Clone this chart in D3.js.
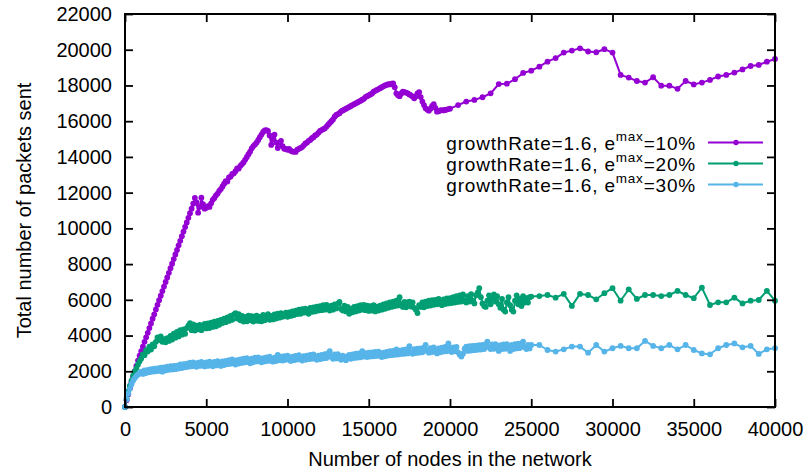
<!DOCTYPE html>
<html>
<head>
<meta charset="utf-8">
<script src="https://cdn.jsdelivr.net/npm/d3@7/dist/d3.min.js"></script>
<style>
  body { margin: 0; background: #fff; }
  text { font-family: "Liberation Sans", Arial, Helvetica, sans-serif; fill: #000; }
</style>
</head>
<body>
<div id="chart"></div>
<script>
// Sampling grids (number of nodes)
const nodesDense10 = d3.range(0, 20001, 100);
const nodesSparse10 = d3.range(20500, 40001, 500);
const nodesDense = d3.range(0, 25001, 100);
const nodesSparse = d3.range(25500, 40001, 500);

// growthRate=1.6, emax=10%
const sent10Dense = [
  0, 380, 720, 1050, 1380, 1700, 2000, 2300, 2600, 2870,
  3120, 3380, 3650, 3900, 4150, 4420, 4680, 4940, 5190, 5460,
  5720, 5980, 6230, 6490, 6740, 7000, 7250, 7510, 7770, 8020,
  8280, 8540, 8790, 9050, 9300, 9560, 9820, 10080, 10330, 10590,
  10850, 11100, 11380, 11700, 11450, 10880, 11200, 11720, 11350, 11100,
  11150, 11250, 11200, 11400, 11600, 11700, 11850, 11950, 12100, 12200,
  12350, 12500, 12650, 12620, 12850, 12900, 13050, 13080, 13200, 13350,
  13350, 13500, 13600, 13700, 13850, 14000, 14150, 14300, 14480, 14600,
  14700, 14800, 14950, 15100, 15250, 15400, 15480, 15500, 15450, 15200,
  14670, 15000, 15250, 14800, 14500, 14800, 14900, 14600, 14450, 14450,
  14400, 14450, 14350, 14300, 14300, 14280, 14400, 14450, 14500, 14550,
  14650, 14750, 14800, 14900, 14950, 15050, 15100, 15200, 15250, 15350,
  15450, 15500, 15550, 15600, 15700, 15800, 15900, 16000, 16100, 16250,
  16350, 16400, 16450, 16550, 16600, 16650, 16700, 16750, 16800, 16850,
  16900, 16950, 17000, 17050, 17100, 17150, 17200, 17250, 17350, 17400,
  17450, 17500, 17550, 17650, 17700, 17750, 17800, 17850, 17900, 17950,
  18000, 18030, 18080, 18060, 18100, 18120, 17900, 17560, 17450, 17400,
  17550, 17650, 17620, 17600, 17560, 17500, 17450, 17380, 17280, 17400,
  17550, 17620, 17350, 17100, 16900, 16720, 16650, 16590, 16700, 16850,
  16950, 16750, 16530, 16560, 16600, 16620, 16600, 16630, 16650, 16680,
  16700
];
const sent10Sparse = [
  16900, 17100, 17190, 17340, 17560, 18080, 18100, 18350, 18700, 18830,
  19050, 19330, 19530, 19840, 19950, 20080, 19900, 19860, 20030, 19840,
  18590, 18440, 18250, 18160, 18460, 17990, 17990, 17810, 18250, 18060,
  18160, 18310, 18500, 18590, 18720, 18900, 19090, 19150, 19330, 19480
];

// growthRate=1.6, emax=20%
const sent20Dense = [
  0, 480, 880, 1200, 1480, 1760, 1980, 2180, 2380, 2560,
  2720, 2950, 2900, 3180, 3100, 3380, 3220, 3500, 3400, 3650,
  3900, 3750, 3950, 3650, 3800, 3620, 3850, 3700, 3980, 3780,
  4100, 3880, 4200, 3950, 4300, 4050, 4350, 4100, 4420, 4550,
  4700, 4300, 4620, 4280, 4560, 4350, 4600, 4300, 4550, 4650,
  4400, 4680, 4420, 4720, 4480, 4780, 4520, 4820, 4600, 4880,
  4700, 4950, 4750, 5020, 4820, 5100, 4880, 5180, 5250, 4950,
  5200, 4850, 5100, 4780, 5050, 4800, 5120, 4850, 5080, 4780,
  4900, 5120, 4820, 5050, 4800, 5150, 4850, 5080, 5200, 4880,
  5100, 4900, 5180, 4950, 5220, 5000, 5250, 5050, 5150, 5280,
  5050, 5300, 5100, 5350, 5150, 5400, 5200, 5450, 5220, 5480,
  5280, 5500, 5300, 5220, 5550, 5320, 5580, 5350, 5620, 5400,
  5650, 5420, 5700, 5450, 5720, 5480, 5400, 5680, 5450, 5750,
  5520, 5780, 5880, 5480, 5400, 5680, 5350, 5600, 5220, 5500,
  5300, 5600, 5350, 5650, 5400, 5700, 5450, 5720, 5420, 5680,
  5380, 5650, 5400, 5700, 5350, 5620, 5400, 5680, 5450, 5750,
  5500, 5800, 5550, 5850, 5600, 5900, 5650, 5950, 5680, 6150,
  5750, 5600, 5880, 5580, 5850, 5900, 5620, 5850, 5550, 5450,
  5260, 5700, 5600, 5850, 5580, 5900, 5650, 5950, 5680, 5980,
  5720, 6000, 5750, 6050, 5800, 5700, 6020, 5760, 6080, 5800,
  6100, 5820, 6150, 5850, 6200, 5880, 6250, 5900, 6300, 5950,
  5850, 6200, 5900, 6320, 5950, 5800, 6250, 6400, 6650, 6150,
  5800, 5650, 5600, 5950, 6250, 5750, 6050, 6300, 5900, 6200,
  5750, 5550, 6050, 5450, 5340, 5850, 6150, 5700, 5450, 5340,
  5950, 6250, 5750, 6050, 5650, 6200, 5850, 6100, 5850, 6150,
  6180
];
const sent20Sparse = [
  6210, 6270, 6120, 6330, 5660, 6330, 6270, 6030, 6370, 6650,
  5950, 6590, 6050, 6270, 6270, 6210, 6270, 6500, 6270, 6090,
  6680, 5710, 5860, 5860, 6120, 5800, 5950, 5990, 6500, 5950
];

// growthRate=1.6, emax=30%
const sent30Dense = [
  0, 420, 760, 1040, 1280, 1480, 1620, 1740, 1820, 1880,
  1980, 1850, 2050, 1900, 2080, 1950, 2120, 1980, 2150, 2000,
  2160, 2020, 2200, 1980, 2220, 2050, 2260, 2080, 2280, 2100,
  2300, 2120, 2320, 2150, 2380, 2180, 2400, 2220, 2420, 2250,
  2480, 2280, 2500, 2300, 2250, 2480, 2300, 2520, 2330, 2270,
  2500, 2300, 2540, 2350, 2280, 2520, 2330, 2560, 2380, 2300,
  2550, 2350, 2580, 2400, 2620, 2420, 2660, 2450, 2380, 2620,
  2430, 2660, 2470, 2700, 2500, 2740, 2520, 2450, 2700, 2500,
  2760, 2550, 2780, 2570, 2500, 2740, 2550, 2780, 2580, 2820,
  2600, 2540, 2760, 2570, 2920, 2620, 2820, 2600, 2840, 2640,
  2880, 2660, 2580, 2820, 2620, 2860, 2660, 2900, 2680, 2600,
  2840, 2640, 2880, 2680, 2920, 2700, 2940, 2720, 2640, 2880,
  2680, 2920, 2720, 2960, 2740, 3000, 3120, 2800, 2700, 2940,
  2720, 2960, 2740, 2640, 2880, 2680, 2620, 2840, 2920, 2700,
  2940, 2740, 2980, 2760, 3000, 2780, 3120, 2820, 3020, 2800,
  3040, 2820, 3060, 2840, 3080, 2860, 3100, 2880, 2800, 3040,
  2840, 3080, 2880, 3120, 2900, 3140, 2920, 3220, 2940, 3160,
  2960, 3200, 2980, 3220, 3000, 3400, 3060, 2980, 3240, 3020,
  3260, 3040, 3280, 3060, 3320, 3480, 3140, 3040, 3300, 3080,
  3340, 3100, 3000, 3280, 3060, 3320, 3100, 3360, 3120, 3560,
  3300, 3080, 3340, 3120, 3360, 3060, 2920, 2820, 2980, 3260,
  3380, 3140, 3400, 3160, 3420, 3180, 3440, 3200, 3460, 3220,
  3480, 3240, 3520, 3660, 3340, 3240, 3500, 3260, 3520, 3280,
  3140, 3460, 3240, 3500, 3260, 3520, 3280, 3140, 3480, 3240,
  3520, 3280, 3540, 3300, 3560, 3660, 3340, 3240, 3480, 3280,
  3470
];
const sent30Sparse = [
  3470, 3190, 3100, 3230, 3380, 3380, 3040, 3470, 3100, 3290,
  3420, 3290, 3290, 3700, 3420, 3290, 3470, 3230, 3470, 3190,
  3000, 2950, 3290, 3470, 3560, 3340, 3420, 2970, 3230, 3290
];

const legendLabels = ["10%", "20%", "30%"];
const xTicks = d3.range(0, 40001, 5000);
const yTicks = d3.range(0, 22001, 2000);

const W = 807, H = 472;
const margin = { left: 125, right: 32, top: 14, bottom: 65 };

const zip = (xs, ys) => xs.map((x, i) => ({ x: x, y: ys[i] }));
const series = [
  { label: legendLabels[0], color: "#9400d3",
    data: zip(nodesDense10, sent10Dense).concat(zip(nodesSparse10, sent10Sparse)) },
  { label: legendLabels[1], color: "#009e73",
    data: zip(nodesDense, sent20Dense).concat(zip(nodesSparse, sent20Sparse)) },
  { label: legendLabels[2], color: "#56b4e9",
    data: zip(nodesDense, sent30Dense).concat(zip(nodesSparse, sent30Sparse)) }
];

const svg = d3.select("#chart").append("svg")
  .attr("width", W)
  .attr("height", H);

const x = d3.scaleLinear().domain([0, 40000]).range([margin.left, W - margin.right]);
const y = d3.scaleLinear().domain([0, 22000]).range([H - margin.bottom, margin.top]);

// curves
const line = d3.line().x(d => x(d.x)).y(d => y(d.y));
series.forEach(s => {
  const g = svg.append("g");
  g.append("path")
    .datum(s.data)
    .attr("d", line)
    .attr("fill", "none")
    .attr("stroke", s.color)
    .attr("stroke-width", 2)
    .attr("stroke-linejoin", "round");
  g.selectAll("circle")
    .data(s.data)
    .enter()
    .append("circle")
    .attr("cx", d => x(d.x))
    .attr("cy", d => y(d.y))
    .attr("r", 2.9)
    .attr("fill", s.color);
});

// axes (gnuplot style: inward ticks on all sides)
const tickLen = 8;
const fmt = d3.format("d");
svg.append("g")
  .attr("transform", `translate(0,${y(0)})`)
  .call(d3.axisBottom(x).tickValues(xTicks).tickFormat(fmt)
    .tickSizeInner(-tickLen).tickSizeOuter(0).tickPadding(15));
svg.append("g")
  .attr("transform", `translate(${x(0)},0)`)
  .call(d3.axisLeft(y).tickValues(yTicks).tickFormat(fmt)
    .tickSizeInner(-tickLen).tickSizeOuter(0).tickPadding(13));
svg.append("g")
  .attr("transform", `translate(0,${y(22000)})`)
  .call(d3.axisTop(x).tickValues(xTicks).tickSizeInner(-tickLen).tickSizeOuter(0).tickFormat(""));
svg.append("g")
  .attr("transform", `translate(${x(40000)},0)`)
  .call(d3.axisRight(y).tickValues(yTicks).tickSizeInner(-tickLen).tickSizeOuter(0).tickFormat(""));

svg.selectAll(".domain").remove();
svg.selectAll(".tick line").attr("stroke", "#000").attr("stroke-width", 1.8);
svg.selectAll(".tick text").style("font-size", "20px");

svg.append("rect")
  .attr("x", x(0))
  .attr("y", y(22000))
  .attr("width", x(40000) - x(0))
  .attr("height", y(0) - y(22000))
  .attr("fill", "none")
  .attr("stroke", "#000")
  .attr("stroke-width", 2);

// axis titles
svg.append("text")
  .attr("x", (x(0) + x(40000)) / 2)
  .attr("y", 466)
  .attr("text-anchor", "middle")
  .style("font-size", "20px")
  .text("Number of nodes in the network");

svg.append("text")
  .attr("transform", `translate(31,${(y(0) + y(22000)) / 2}) rotate(-90)`)
  .attr("text-anchor", "middle")
  .style("font-size", "20px")
  .text("Total number of packets sent");

// legend
const legend = svg.append("g");
series.forEach((s, i) => {
  const ly = 142.5 + i * 21;
  const t = legend.append("text")
    .attr("x", 696)
    .attr("y", ly + 7.5)
    .attr("text-anchor", "end")
    .style("font-size", "19px")
    .style("letter-spacing", "0.8px");
  t.append("tspan").text("growthRate=1.6, e");
  t.append("tspan").attr("dy", -9).style("font-size", "13.5px").text("max");
  t.append("tspan").attr("dy", 9).text("=" + s.label);
  legend.append("line")
    .attr("x1", 708).attr("x2", 763)
    .attr("y1", ly).attr("y2", ly)
    .attr("stroke", s.color)
    .attr("stroke-width", 2);
  legend.append("circle")
    .attr("cx", 736).attr("cy", ly)
    .attr("r", 2.7)
    .attr("fill", s.color);
});
</script>
</body>
</html>
